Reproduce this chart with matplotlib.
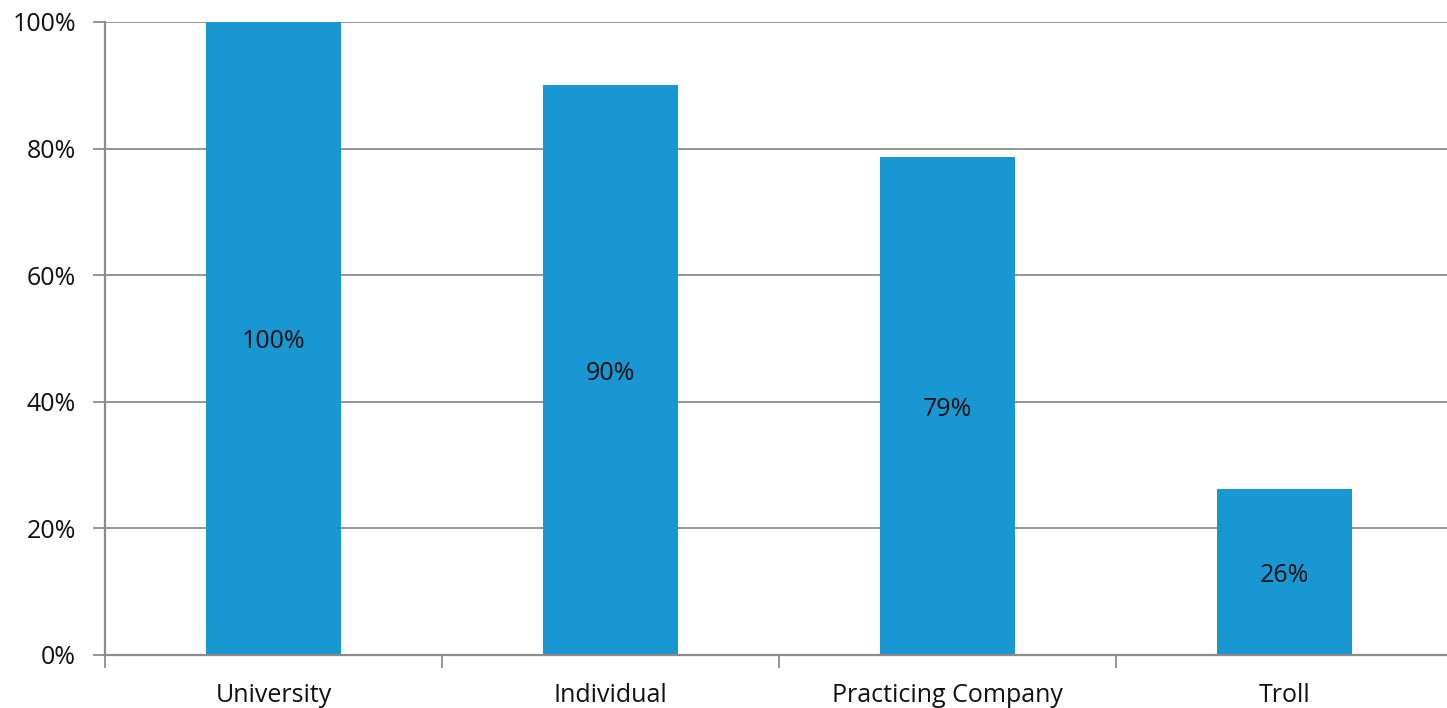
import matplotlib
matplotlib.use("Agg")
from matplotlib import pyplot as plt
from matplotlib.ticker import FuncFormatter

categories = ["University", "Individual", "Practicing Company", "Troll"]
shares = [100.0, 90.0, 78.6, 26.2]
y_ticks = [0, 20, 40, 60, 80, 100]

BAR_COLOR = "#1897d2"
GRID_COLOR = "#8c8c8c"
FONT_SIZE = 18

plt.rcParams['font.family'] = ['Open Sans', 'DejaVu Sans']

fig = plt.figure(figsize=(14.47, 7.08), dpi=100)
axis = fig.add_axes([0.0726, 0.0749, 0.9314, 0.8941])

xs = list(range(len(categories)))
axis.bar(xs, shares, width=0.4, color=BAR_COLOR, zorder=3)

# value labels in the middle of each bar
for x, val in zip(xs, shares):
    axis.text(x, val / 2, f"{val:.0f}%", ha='center', va='center_baseline',
              fontsize=FONT_SIZE, color='#111111', zorder=4)

axis.set_xlim(-0.5, len(categories) - 0.5)
axis.set_ylim(0, 100)
axis.set_yticks(y_ticks)
axis.yaxis.set_major_formatter(FuncFormatter(lambda v, _: f"{v:.0f}%"))
axis.grid(axis='y', color=GRID_COLOR, lw=1.3, zorder=1)
axis.tick_params(axis='y', length=9, width=1.3, color=GRID_COLOR,
                 labelsize=FONT_SIZE, pad=12, labelcolor='#111111')

# category ticks sit between the bars
axis.set_xticks([x - 0.5 for x in xs] + [len(categories) - 0.5])
axis.set_xticklabels([])
axis.set_xticks(xs, minor=True)
axis.set_xticklabels(categories, minor=True)
axis.tick_params(axis='x', which='major', length=9, width=1.3,
                 color=GRID_COLOR)
axis.tick_params(axis='x', which='minor', length=0, labelsize=FONT_SIZE,
                 pad=20, labelcolor='#111111')

for side in ['top', 'right']:
    axis.spines[side].set_visible(False)
for side in ['left', 'bottom']:
    axis.spines[side].set_color(GRID_COLOR)
    axis.spines[side].set_linewidth(1.6)
    axis.spines[side].set_zorder(5)

fig.savefig("out.png", dpi=100)
